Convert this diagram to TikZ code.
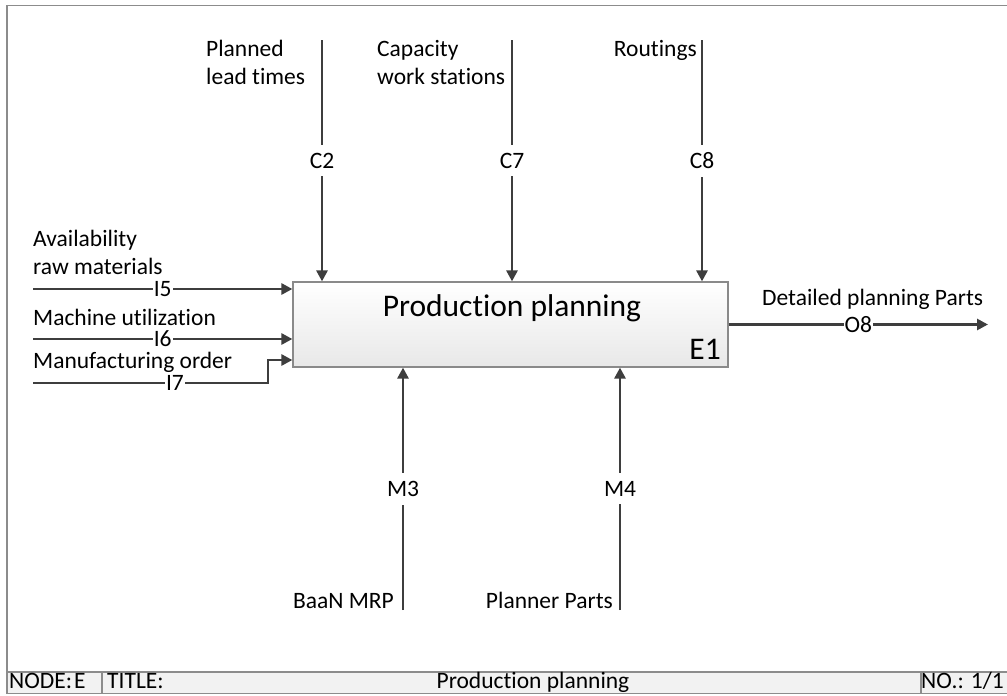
\documentclass[tikz,border=0pt]{standalone}
\usepackage{fontspec}
\setmainfont{Carlito}[Ligatures=NoCommon]
\usetikzlibrary{arrows.meta}
\definecolor{linec}{HTML}{3E3E3E}
\definecolor{framec}{HTML}{8C8C8C}
\definecolor{boxc}{HTML}{8A8A8A}
\newcommand{\lblfont}{\fontsize{23.5}{28}\selectfont}
\newcommand{\ttlfont}{\fontsize{31.5}{36}\selectfont}
\newcommand{\barfont}{\fontsize{23.5}{26}\selectfont}
\tikzset{
  flow/.style={draw=linec, line width=2.7pt,
    -{Triangle[length=11pt,width=11pt]}},
  vcode/.style={fill=white, inner xsep=1.5pt, inner ysep=8pt, font=\lblfont},
  hcode/.style={fill=white, inner xsep=1pt, inner ysep=0pt, font=\lblfont},
  lbl/.style={inner sep=0pt, font=\lblfont, align=left},
  activity/.style={draw=boxc, line width=1.2pt, top color=white,
    bottom color=black!9, minimum width=435pt, minimum height=85pt},
  frameline/.style={draw=framec, line width=1.4pt},
  bartext/.style={inner sep=0pt, font=\barfont, anchor=base west}
}
\begin{document}
\begin{tikzpicture}[x=1pt, y=-1pt]
  \useasboundingbox (0,0) rectangle (1007,696);
  % sheet frame and title bar
  \fill[black!5] (7,672) rectangle (1010,693.5);
  \draw[frameline] (1010,5.5) -- (7,5.5) -- (7,693.5) -- (1010,693.5);
  \draw[frameline] (7,672) -- (1010,672);
  \draw[frameline] (102,672) -- (102,693.5);
  \draw[frameline] (921,672) -- (921,693.5);
  \node[bartext] (nodef) at (9,688) {NODE:\kern2pt E};
  \node[bartext] (titlef) at (107,688) {TITLE:};
  \node[bartext, anchor=base] (namef) at (533,688) {Production planning};
  \node[bartext, anchor=base east] (nof) at (1004,688) {NO.: 1/1};

  % activity box
  \node[activity] (box) at (510.5,324.5) {};
  \node[inner sep=0pt, font=\ttlfont, anchor=base] (ttl) at (512,316) {Production planning};
  \node[inner sep=0pt, font=\ttlfont, anchor=base east] (e1) at (721,359) {E1};

  % controls
  \coordinate (c2s) at (322,40);
  \coordinate (c7s) at (512,40);
  \coordinate (c8s) at (702,40);
  \draw[flow] (c2s) -- node[vcode] (c2) {C2} (box.north -| c2s);
  \draw[flow] (c7s) -- node[vcode] (c7) {C7} (box.north -| c7s);
  \draw[flow] (c8s) -- node[vcode] (c8) {C8} (box.north -| c8s);
  \node[lbl, anchor=base west] (c2t) at (206,84) {Planned\\lead times};
  \node[lbl, anchor=base west] (c7t) at (377,84) {Capacity\\work stations};
  \node[lbl, anchor=base east] (c8t) at (697,56) {Routings};

  % inputs
  \coordinate (i5s) at (33,289);
  \coordinate (i6s) at (33,339);
  \coordinate (i7s) at (33,383);
  \draw[flow] (i5s) -- node[hcode] (i5) {I5} (i5s -| box.west);
  \draw[flow] (i6s) -- node[hcode] (i6) {I6} (i6s -| box.west);
  \draw[flow] (i7s) -- node[hcode, pos=0.604] (i7) {I7} (268,383) -- (268,360) -- (box.west |- 0,360);
  \node[lbl, anchor=base west] (i5t) at (33,274) {Availability\\raw materials};
  \node[lbl, anchor=base west] (i6t) at (33,325) {Machine utilization};
  \node[lbl, anchor=base west] (i7t) at (33,368) {Manufacturing order};

  % output
  \coordinate (o8e) at (988,324.5);
  \draw[flow] (box.east |- o8e) -- node[hcode] (o8) {O8} (o8e);
  \node[lbl, anchor=base west] (o8t) at (762,305) {Detailed planning Parts};

  % mechanisms
  \coordinate (m3s) at (403,610);
  \coordinate (m4s) at (620,610);
  \draw[flow] (m3s) -- node[vcode] (m3) {M3} (box.south -| m3s);
  \draw[flow] (m4s) -- node[vcode] (m4) {M4} (box.south -| m4s);
  \node[lbl, anchor=base east] (m3t) at (394,608) {BaaN MRP};
  \node[lbl, anchor=base east] (m4t) at (613,608) {Planner Parts};
\end{tikzpicture}
\end{document}
